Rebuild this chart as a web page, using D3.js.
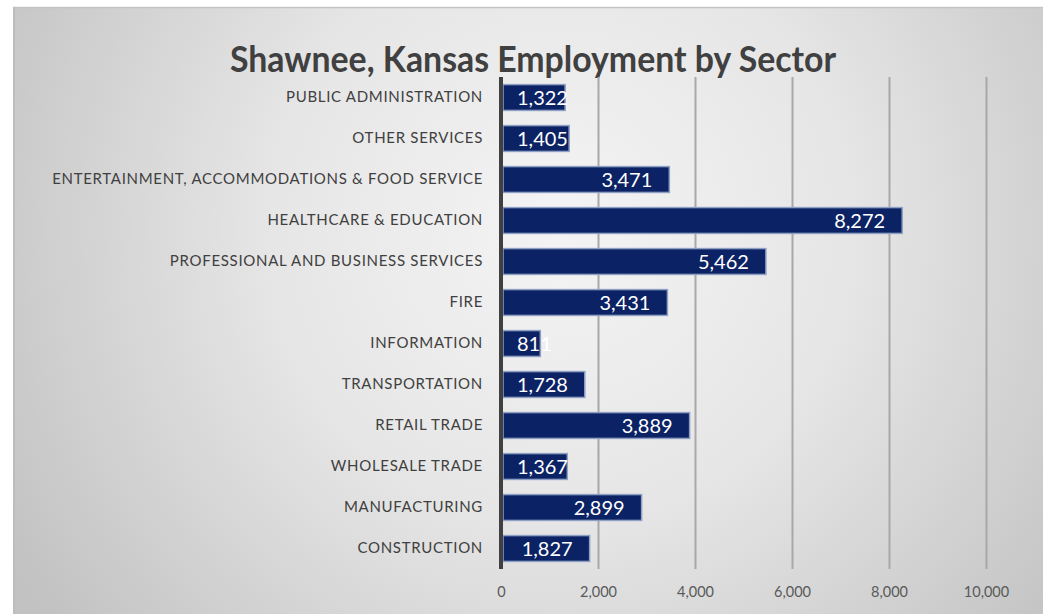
<!DOCTYPE html>
<html>
<head>
<meta charset="utf-8">
<script src="https://cdn.jsdelivr.net/npm/d3@7"></script>
<style>
  html, body { margin: 0; padding: 0; background: #ffffff; }
  svg { display: block; }
</style>
</head>
<body>
<svg id="chart" width="1044" height="614"></svg>
<script>
// Employment by sector, listed bottom-to-top as the bars are stacked
const sectors = [
  "CONSTRUCTION",
  "MANUFACTURING",
  "WHOLESALE TRADE",
  "RETAIL TRADE",
  "TRANSPORTATION",
  "INFORMATION",
  "FIRE",
  "PROFESSIONAL AND BUSINESS SERVICES",
  "HEALTHCARE & EDUCATION",
  "ENTERTAINMENT, ACCOMMODATIONS & FOOD SERVICE",
  "OTHER SERVICES",
  "PUBLIC ADMINISTRATION"
];
const employees = [1827, 2899, 1367, 3889, 1728, 811, 3431, 5462, 8272, 3471, 1405, 1322];
const xTicks = [0, 2000, 4000, 6000, 8000, 10000];
const chartTitle = "Shawnee, Kansas Employment by Sector";

const W = 1044, H = 614;
const svg = d3.select("#chart");
const defs = svg.append("defs");

// Soft grey panel with a lighter centre
const grad = defs.append("radialGradient")
  .attr("id", "panelGrad")
  .attr("gradientUnits", "userSpaceOnUse")
  .attr("cx", 560).attr("cy", 230).attr("r", 640);
grad.append("stop").attr("offset", "0").attr("stop-color", "#f4f4f4");
grad.append("stop").attr("offset", "0.45").attr("stop-color", "#e6e6e6");
grad.append("stop").attr("offset", "1").attr("stop-color", "#c2c2c2");

const panel = { x: 13, y: 7, w: 1030, h: 614 - 7 };
svg.append("rect")
  .attr("x", panel.x).attr("y", panel.y)
  .attr("width", panel.w).attr("height", panel.h)
  .attr("fill", "url(#panelGrad)");
svg.append("line")
  .attr("x1", panel.x).attr("x2", panel.x + panel.w)
  .attr("y1", panel.y + 0.5).attr("y2", panel.y + 0.5)
  .attr("stroke", "#c4c4c4").attr("stroke-width", 1.5);
svg.append("line")
  .attr("x1", panel.x + 1).attr("x2", panel.x + 1)
  .attr("y1", panel.y).attr("y2", H)
  .attr("stroke", "#bdbdbd").attr("stroke-width", 2);

// Plot region
const plot = { left: 501, right: 986, top: 77, bottom: 569 };

const x = d3.scaleLinear()
  .domain([0, 10000])
  .range([plot.left, plot.right]);

const y = d3.scaleBand()
  .domain(sectors.slice().reverse())
  .range([plot.top, plot.bottom])
  .paddingInner(0.37)
  .paddingOuter(0.185);

// Title, in a condensed setting
svg.append("text")
  .attr("x", 533).attr("y", 72)
  .attr("text-anchor", "middle")
  .attr("font-family", "Lato, 'Open Sans', sans-serif")
  .attr("font-weight", "bold")
  .attr("font-size", 36)
  .attr("textLength", 606)
  .attr("lengthAdjust", "spacingAndGlyphs")
  .attr("fill", "#404040")
  .text(chartTitle);

// Vertical gridlines
const grid = svg.append("g")
  .attr("transform", `translate(0,${plot.bottom})`)
  .call(d3.axisBottom(x).tickValues(xTicks.slice(1)).tickSize(-(plot.bottom - plot.top)).tickFormat(""));
grid.select(".domain").remove();
grid.selectAll(".tick line").attr("stroke", "#a8a8a8").attr("stroke-width", 2);

// Tick labels
const xAxis = svg.append("g")
  .attr("transform", `translate(0,${plot.bottom})`)
  .call(d3.axisBottom(x).tickValues(xTicks).tickSize(0).tickPadding(18).tickFormat(d3.format(",")));
xAxis.select(".domain").remove();
xAxis.selectAll("text")
  .attr("font-family", "Lato, 'Open Sans', sans-serif")
  .attr("font-size", 14.5)
  .attr("fill", "#595959");

// Bars
const bars = svg.append("g");
bars.selectAll("rect")
  .data(sectors.map((s, i) => ({ sector: s, value: employees[i] })))
  .join("rect")
  .attr("x", x(0) + 2)
  .attr("y", d => y(d.sector))
  .attr("width", d => x(d.value) - x(0) - 2)
  .attr("height", y.bandwidth())
  .attr("fill", "#0b2265")
  .attr("stroke", "#8e9fc4")
  .attr("stroke-width", 1.5);

// Category axis with its heavy baseline
const yAxis = svg.append("g")
  .attr("transform", `translate(${x(0)},0)`)
  .call(d3.axisLeft(y).tickSize(0).tickPadding(18));
yAxis.select(".domain")
  .attr("stroke", "#404040")
  .attr("stroke-width", 4)
  .attr("d", `M0,${plot.top}V${plot.bottom}`);
yAxis.selectAll("text")
  .attr("font-family", "Lato, 'Open Sans', sans-serif")
  .attr("font-size", 15)
  .attr("letter-spacing", "0.7px")
  .attr("fill", "#404040");

// Value labels sitting inside the bar end
const labels = svg.append("g");
labels.selectAll("text")
  .data(sectors.map((s, i) => ({ sector: s, value: employees[i] })))
  .join("text")
  .attr("y", d => y(d.sector) + y.bandwidth() / 2)
  .attr("dy", "0.36em")
  .attr("text-anchor", "end")
  .attr("font-family", "Lato, 'Open Sans', sans-serif")
  .attr("font-size", 20)
  .attr("fill", "#ffffff")
  .text(d => d3.format(",")(d.value))
  .each(function (d) {
    const w = this.getComputedTextLength();
    const end = Math.max(x(d.value) - 17, x(0) + 16 + w);
    d3.select(this).attr("x", end);
  });
</script>
</body>
</html>
